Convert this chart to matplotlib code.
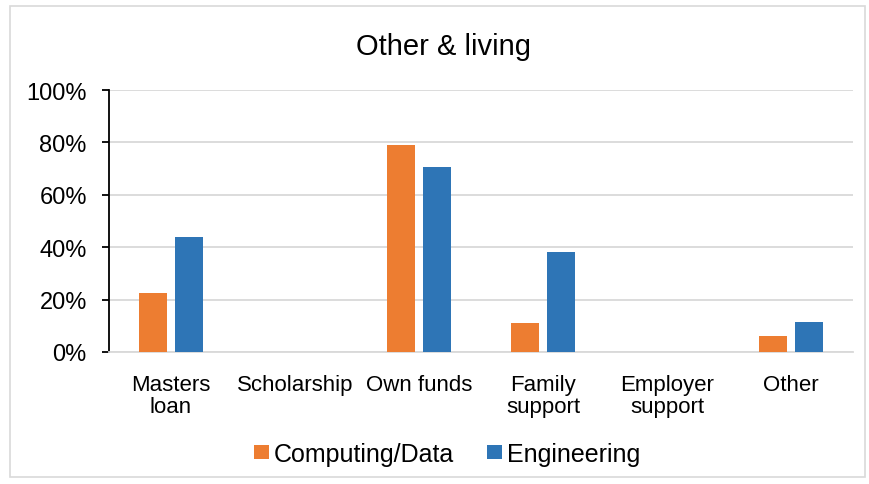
import numpy as np
import matplotlib
matplotlib.use("Agg")
import matplotlib.pyplot as plt
from matplotlib.patches import Rectangle

categories = ["Masters\nloan", "Scholarship", "Own funds", "Family\nsupport", "Employer\nsupport", "Other"]
computing = [0.225, 0.0, 0.79, 0.111, 0.0, 0.061]
engineering = [0.439, 0.0, 0.707, 0.380, 0.0, 0.115]

ORANGE = "#ED7D31"
BLUE = "#2E75B6"

plt.rcParams["font.family"] = ["Liberation Sans", "DejaVu Sans"]

fig = plt.figure(figsize=(8.7, 4.85), dpi=100)
fig.patches.append(Rectangle((10 / 870, 7 / 485), 855 / 870, 471 / 485, transform=fig.transFigure,
                             fill=False, edgecolor="#D9D9D9", lw=1.2))
ax = fig.add_axes([109 / 870, 1 - 353 / 485, 744 / 870, 262 / 485])

x = np.arange(len(categories))
w = 0.22
ax.bar(x - 0.145, computing, w, color=ORANGE, label="Computing/Data", zorder=3)
ax.bar(x + 0.145, engineering, w, color=BLUE, label="Engineering", zorder=3)

ax.set_xlim(-0.5, len(categories) - 0.5)
ax.set_ylim(0, 1)
ax.set_yticks(np.arange(0, 1.01, 0.2))
ax.set_yticklabels([f"{int(round(v * 100))}%" for v in np.arange(0, 1.01, 0.2)], fontsize=17)
ax.set_xticks(x)
ax.set_xticklabels(categories, fontsize=16, linespacing=1.05)
ax.tick_params(axis="x", length=0, pad=16)
ax.tick_params(axis="y", length=5, width=1.3, color="black", pad=11)
ax.grid(axis="y", color="#D9D9D9", lw=1.3, zorder=0)
for s in ["top", "right"]:
    ax.spines[s].set_visible(False)
ax.spines["left"].set_color("black")
ax.spines["left"].set_linewidth(1.3)
ax.spines["bottom"].set_color("#D9D9D9")
ax.spines["bottom"].set_linewidth(1.3)

fig.text(444 / 870, 1 - 55 / 485, "Other & living", fontsize=21, ha="center", va="baseline")
fig.legend(loc="center", bbox_to_anchor=(0.514, 1 - 455 / 485), ncol=2, frameon=False,
           fontsize=18, handlelength=0.62, handleheight=0.52, handletextpad=0.2, columnspacing=1.3)

fig.savefig("out.png", dpi=100)
